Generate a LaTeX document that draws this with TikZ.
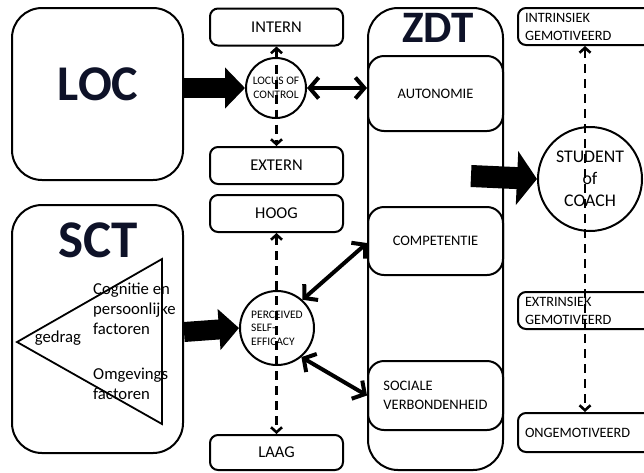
\documentclass[tikz,border=0pt]{standalone}
\usepackage{fontspec}
\setmainfont{Carlito}
\usetikzlibrary{arrows.meta,calc}
\definecolor{titelkleur}{RGB}{14,18,40}

\begin{document}
\begin{tikzpicture}[
    x=1pt, y=-1pt,  % we werken in pixels, van boven naar onder
    % Kaders
    box/.style={draw, line width=2pt, rounded corners=8pt, minimum width=133pt, minimum height=37pt, inner sep=0pt, font=\fontsize{16.5}{19}\selectfont},
    grotebox/.style={draw, line width=2pt, rounded corners=30pt, minimum width=171pt, inner sep=0pt},
    zdtbox/.style={draw, line width=2pt, rounded corners=16pt, minimum width=135pt, inner sep=0pt, align=left, font=\fontsize{14.5}{19}\selectfont},
    rechtsbox/.style={draw, line width=2pt, rounded corners=8pt, minimum width=134pt, minimum height=37pt, text width=120pt, align=left, inner sep=0pt, font=\fontsize{14.3}{18}\selectfont},
    cirkel/.style={draw, circle, line width=2pt, inner sep=0pt, font=\fontsize{11.5}{13.5}\selectfont},
    titel/.style={text=titelkleur, inner sep=0pt},
    tekst/.style={font=\fontsize{16.7}{20}\selectfont, align=left, inner sep=0pt},
    % Pijlen
    stippel/.style={line width=2.6pt, dash pattern=on 9pt off 6pt, {Straight Barb[length=5pt,width=11pt]}-{Straight Barb[length=5pt,width=11pt]}},
    dubbel/.style={line width=4pt, {Straight Barb[length=9pt,width=21pt]}-{Straight Barb[length=9pt,width=21pt]}},
    blokpijl/.style={line width=20pt, -{Triangle[length=20pt,width=40pt]}}
]
\useasboundingbox (0,0) rectangle (644,472);

% Links: LOC en SCT
\node[grotebox, minimum height=172pt] (loc) at (97.5,94) {};
\node[titel, font=\fontsize{50}{50}\selectfont\bfseries] (loctitel) at (98,84) {LOC};
\node[grotebox, minimum height=248pt] (sct) at (97.5,329) {};
\node[titel, font=\fontsize{53}{53}\selectfont\bfseries] (scttitel) at (98,240) {SCT};
\draw[line width=1.8pt] (17,342) -- (162,259) -- (162,424) -- cycle;
\node[tekst] (gedrag) at (58,338) {gedrag};
\node[tekst, anchor=west] (cognitie) at (93,309) {Cognitie en\\persoonlijke\\factoren};
\node[tekst, anchor=west] (omgeving) at (93,384) {Omgevings\\factoren};

% Midden: locus of control en self-efficacy
\node[box] (intern) at (276.5,27) {INTERN};
\node[box] (extern) at (276.5,165.5) {EXTERN};
\node[box] (hoog) at (276.5,213.5) {HOOG};
\node[box, minimum height=35pt] (laag) at (276.5,452.5) {LAAG};
\node[cirkel, minimum size=60pt, align=center] (locus) at (276,88) {LOCUS OF\\CONTROL};
\node[cirkel, minimum size=74pt, align=left] (efficacy) at (277,328) {PERCEIVED\\SELF-\\EFFICACY};

% ZDT
\node[zdtbox, rounded corners=30pt, minimum height=462pt] (zdt) at (435.5,239) {};
\node[titel, font=\fontsize{45}{45}\selectfont\bfseries] (zdttitel) at (438,28) {ZDT};
\node[zdtbox, minimum height=75pt] (autonomie) at (435.5,93.5) {AUTONOMIE};
\node[zdtbox, minimum height=68pt] (competentie) at (435.5,241) {COMPETENTIE};
\node[zdtbox, minimum height=69pt] (sociale) at (435.5,395.5) {SOCIALE\\VERBONDENHEID};

% Rechts: motivatie
\node[rechtsbox] (intrinsiek) at (585,26.5) {INTRINSIEK\\GEMOTIVEERD};
\node[rechtsbox] (extrinsiek) at (585,310.5) {EXTRINSIEK\\GEMOTIVEERD};
\node[rechtsbox, minimum height=39pt] (ongemotiveerd) at (585,432.5) {ONGEMOTIVEERD};
\node[cirkel, minimum size=104pt, align=center, font=\fontsize{17.8}{22}\selectfont] (student) at (590,179) {STUDENT\\of\\COACH};

% Verbindingen
\draw[blokpijl] (loc.east |- locus.west) -- (locus.west);
\draw[blokpijl] ($(sct.east)+(0,3)$) -- (efficacy.west);
\draw[blokpijl, line width=22pt, -{Triangle[length=20pt,width=53pt]}] ($(zdt.east |- student.west)+(-33,-3)$) -- (student.west);
\draw[stippel] (intern.south) -- (extern.north);
\draw[stippel] (hoog.south) -- (laag.north);
\draw[stippel] (intrinsiek.south) -- (ongemotiveerd.north);
\draw[dubbel] (locus.east) -- (autonomie.west |- locus.east);
\draw[dubbel] (efficacy.48) -- ($(competentie.west)+(0,2)$);
\draw[dubbel] (efficacy.-50) -- (sociale.west);
\end{tikzpicture}
\end{document}
